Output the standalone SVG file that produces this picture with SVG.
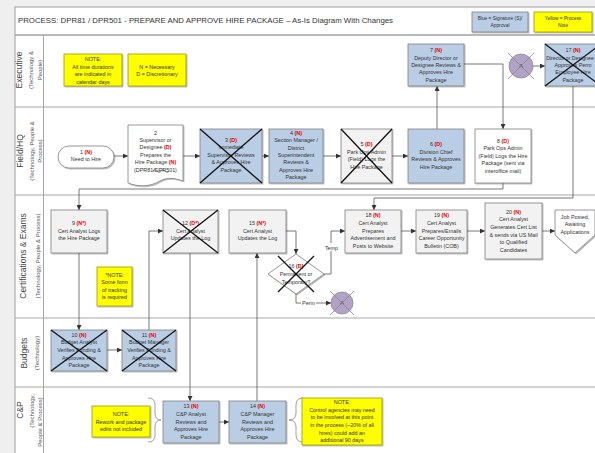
<svg xmlns="http://www.w3.org/2000/svg" width="595" height="453" viewBox="0 0 595 453">
<defs>
<filter id="sh" x="-10%" y="-10%" width="130%" height="130%"><feDropShadow dx="1" dy="1" stdDeviation="0.7" flood-color="#000" flood-opacity="0.3"/></filter>
<marker id="ah" viewBox="0 0 10 10" refX="10" refY="5" markerWidth="5" markerHeight="5" markerUnits="userSpaceOnUse" orient="auto"><path d="M0,0 L10,5 L0,10 z" fill="#333"/></marker>
</defs>
<style>
.n{stroke:#7f7f7f;stroke-width:0.8;filter:url(#sh)}
.blue{fill:#b9cde5}
.gray{fill:#f2f2f2}
.white{fill:#fff}
.yel{fill:#ffff00;stroke:#9a9a00;stroke-width:0.8;filter:url(#sh)}
.t{font-family:"Liberation Sans",Arial,sans-serif;font-size:5.4px;fill:#333;text-anchor:middle}
.r{fill:#e00000;font-weight:bold}
.x{stroke:#111;stroke-width:1.3}
.xg{stroke:#888;stroke-width:0.8}
.c{stroke:#555;stroke-width:0.8;fill:none;marker-end:url(#ah)}
.lane{stroke:#a6a6a6;stroke-width:1;fill:none}
.lm{font-family:"Liberation Sans",Arial,sans-serif;font-size:8.5px;fill:#444;text-anchor:middle}
.ls{font-family:"Liberation Sans",Arial,sans-serif;font-size:6px;fill:#555;text-anchor:middle}
.br{stroke:#888;stroke-width:0.8;fill:none}
</style>
<rect x="0" y="0" width="595" height="453" fill="#efefef"/>
<g id="frame">
<rect x="15" y="7" width="600" height="460" fill="#fff" stroke="#a0a0a0"/>
<text x="18" y="23" font-family="Liberation Sans,Arial,sans-serif" font-size="8" fill="#333" textLength="375" lengthAdjust="spacingAndGlyphs">PROCESS:  DPR81 / DPR501 - PREPARE AND APPROVE HIRE PACKAGE – As-Is Diagram With Changes</text>
<line x1="15" y1="35" x2="595" y2="35" stroke="#a0a0a0" stroke-width="1.5"/>
<line x1="43.5" y1="35" x2="43.5" y2="453" class="lane"/>
<line x1="15" y1="107" x2="595" y2="107" class="lane"/>
<line x1="15" y1="195" x2="595" y2="195" class="lane"/>
<line x1="15" y1="318" x2="595" y2="318" class="lane"/>
<line x1="15" y1="387" x2="595" y2="387" class="lane"/>
</g>
<g id="legend">
<rect x="472" y="12" width="56" height="20" class="n blue"/>
<text class="t" style="font-size:4.8px"><tspan x="500" y="20">Blue = Signature (S)/</tspan><tspan x="500" y="27">Approval</tspan></text>
<rect x="534" y="12" width="58" height="20" class="yel"/>
<text class="t" style="font-size:4.8px"><tspan x="563" y="20">Yellow = Process</tspan><tspan x="563" y="27">Note</tspan></text>
</g>
<g id="lane-labels">
<text class="lm" transform="translate(22,70) rotate(-90)">Executive</text>
<text class="ls" transform="translate(33,70) rotate(-90)">(Technology &amp;</text>
<text class="ls" transform="translate(41.5,70) rotate(-90)">People)</text>
<text class="lm" transform="translate(23,151) rotate(-90)">Field/HQ</text>
<text class="ls" transform="translate(33.5,151) rotate(-90)">(Technology, People &amp;</text>
<text class="ls" transform="translate(41.5,151) rotate(-90)">Process)</text>
<text class="lm" transform="translate(26,256) rotate(-90)">Certifications &amp; Exams</text>
<text class="ls" transform="translate(40,256) rotate(-90)">(Technology, People &amp; Process)</text>
<text class="lm" transform="translate(26.5,353) rotate(-90)">Budgets</text>
<text class="ls" transform="translate(39,353) rotate(-90)">(Technology)</text>
<text class="lm" transform="translate(23,410) rotate(-90)">C&amp;P</text>
<text class="ls" transform="translate(33.5,411) rotate(-90)">(Technology,</text>
<text class="ls" transform="translate(41.5,422) rotate(-90)">People &amp; Process)</text>
</g>
<g id="connectors">
<path class="c" d="M114,156 H128"/>
<path class="c" d="M183,156 H200"/>
<path class="c" d="M262,156 H269"/>
<path class="c" d="M323,156 H341"/>
<path class="c" d="M392,156 H408"/>
<path class="c" d="M437,129 V86"/>
<path class="c" d="M464,64 H503 V129"/>
<path class="c" d="M503,183 V189 H79 V210"/>
<path class="c" d="M79,253 V330"/>
<path class="c" d="M107,350 H122"/>
<path class="c" d="M149,330 V231 H163"/>
<path class="c" d="M190,253 V401"/>
<path class="c" d="M219,422 H229"/>
<path class="c" d="M257,401 V253"/>
<path class="c" d="M286,231 H296 V254"/>
<path class="c" d="M324,274 H331 V231 H345"/>
<path class="c" d="M296,294 V303 H331"/>
<path class="c" d="M533,66 H545"/>
<path class="c" d="M573,86 V198 H374 V210"/>
<path class="c" d="M401,231 H416"/>
<path class="c" d="M467,231 H485"/>
<path class="c" d="M542,231 H555"/>
<rect x="324" y="243" width="15" height="8" fill="#fff"/>
<text class="t" x="331.5" y="249.5">Temp</text>
<rect x="301" y="299" width="15" height="8" fill="#fff"/>
<text class="t" x="308.5" y="305">Perm</text>
</g>
<g id="note-durations">
<rect x="64" y="54" width="58" height="32" class="yel"/>
<text class="t"><tspan x="93" y="61">NOTE:</tspan><tspan x="93" y="68.7">All time durations</tspan><tspan x="93" y="76">are indicated in</tspan><tspan x="93" y="83.7">calendar days</tspan></text>
</g>
<g id="note-nd">
<rect x="128" y="54" width="58" height="32" class="yel"/>
<text class="t"><tspan x="157" y="68.7">N = Necessary</tspan><tspan x="157" y="76">D = Discretionary</tspan></text>
</g>
<g id="node7">
<rect x="408" y="44" width="56" height="42" class="n blue"/>
<text class="t"><tspan x="436" y="52">7 <tspan class="r">(N)</tspan></tspan><tspan x="436" y="59.7">Deputy Director or</tspan><tspan x="436" y="67">Designee Reviews &amp;</tspan><tspan x="436" y="74.3">Approves Hire</tspan><tspan x="436" y="82">Package</tspan></text>
</g>
<g id="circleA1">
<circle cx="521" cy="66" r="12" fill="#b3a2c7" stroke="#8c8c8c" stroke-width="0.8"/>
<text class="t" x="521" y="68" style="font-size:6px">A</text>
<line x1="508" y1="53" x2="534" y2="79" class="xg"/>
<line x1="534" y1="53" x2="508" y2="79" class="xg"/>
</g>
<g id="node17">
<rect x="545" y="44" width="56" height="42" class="n blue"/>
<text class="t"><tspan x="573" y="52">17 <tspan class="r">(N)</tspan></tspan><tspan x="570" y="59.7" style="font-size:5.2px">Director or Designee</tspan><tspan x="573" y="67">Approves Perm</tspan><tspan x="573" y="74.3">Employee Hire</tspan><tspan x="573" y="82">Package</tspan></text>
<line x1="545" y1="44" x2="601" y2="86" class="x"/>
<line x1="601" y1="44" x2="545" y2="86" class="x"/>
</g>
<g id="node1">
<rect x="58" y="146" width="56" height="22" rx="11" class="n white"/>
<text class="t"><tspan x="86" y="153.7">1 <tspan class="r">(N)</tspan></tspan><tspan x="86" y="161">Need to Hire</tspan></text>
</g>
<g id="node2">
<path d="M128,125 H183 V181 C175,178 167,177 160,181 C150,187 138,187 128,183 Z" class="n white"/>
<text class="t"><tspan x="155.5" y="134.7">2</tspan><tspan x="155.5" y="142">Supervisor or</tspan><tspan x="155.5" y="149.3">Designee <tspan class="r">(D)</tspan></tspan><tspan x="155.5" y="157">Prepares the</tspan><tspan x="155.5" y="164.3">Hire Package <tspan class="r">(N)</tspan></tspan><tspan x="155.5" y="172">(DPR81/DPR501)</tspan></text>
<path d="M153,171 q2,-3 4,0 t4,0 t4,0 t4,0" stroke="#333" stroke-width="0.6" fill="none"/>
</g>
<g id="node3">
<rect x="200" y="129" width="62" height="54" class="n blue"/>
<text class="t"><tspan x="231" y="142">3 <tspan class="r">(D)</tspan></tspan><tspan x="231" y="149.4">Immediate</tspan><tspan x="231" y="156.8">Supervisor Reviews</tspan><tspan x="231" y="164.2">&amp; Approves Hire</tspan><tspan x="231" y="171.6">Package</tspan></text>
<line x1="200" y1="129" x2="262" y2="183" class="x"/>
<line x1="262" y1="129" x2="200" y2="183" class="x"/>
</g>
<g id="node4">
<rect x="269" y="129" width="54" height="54" class="n blue"/>
<text class="t"><tspan x="296" y="134.7">4 <tspan class="r">(N)</tspan></tspan><tspan x="296" y="142.1">Section Manager /</tspan><tspan x="296" y="149.5">District</tspan><tspan x="296" y="156.9">Superintendent</tspan><tspan x="296" y="164.3">Reviews &amp;</tspan><tspan x="296" y="171.7">Approves Hire</tspan><tspan x="296" y="179.1">Package</tspan></text>
</g>
<g id="node5">
<rect x="341" y="129" width="51" height="54" class="n gray"/>
<text class="t"><tspan x="366.5" y="146">5 <tspan class="r">(D)</tspan></tspan><tspan x="366.5" y="153.7">Park Ops Admin</tspan><tspan x="366.5" y="161.3">(Field) Logs the</tspan><tspan x="366.5" y="168.7">Hire Package</tspan></text>
<line x1="341" y1="129" x2="392" y2="183" class="x"/>
<line x1="392" y1="129" x2="341" y2="183" class="x"/>
</g>
<g id="node6">
<rect x="408" y="129" width="56" height="54" class="n blue"/>
<text class="t"><tspan x="436" y="146">6 <tspan class="r">(D)</tspan></tspan><tspan x="436" y="153.7">Division Chief</tspan><tspan x="436" y="161.3">Reviews &amp; Approves</tspan><tspan x="436" y="168.7">Hire Package</tspan></text>
</g>
<g id="node8">
<rect x="475" y="129" width="56" height="54" class="n white"/>
<text class="t"><tspan x="503" y="142.7">8 <tspan class="r">(D)</tspan></tspan><tspan x="503" y="150.3">Park Ops Admin</tspan><tspan x="503" y="157.7">(Field) Logs the Hire</tspan><tspan x="503" y="165.3">Package (sent via</tspan><tspan x="503" y="173">interoffice mail)</tspan></text>
</g>
<g id="node9">
<rect x="51" y="210" width="56" height="43" class="n gray"/>
<text class="t"><tspan x="79" y="225.3">9 <tspan class="r">(N*)</tspan></tspan><tspan x="79" y="233">Cert Analyst Logs</tspan><tspan x="79" y="240.3">the Hire Package</tspan></text>
</g>
<g id="note-tracking">
<rect x="97" y="267" width="35" height="39" class="yel"/>
<text class="t"><tspan x="114.5" y="277">*NOTE:</tspan><tspan x="114.5" y="284.3">Some form</tspan><tspan x="114.5" y="292">of tracking</tspan><tspan x="114.5" y="299.3">is required</tspan></text>
</g>
<g id="node12">
<rect x="163" y="210" width="55" height="43" class="n gray"/>
<text class="t"><tspan x="190.5" y="225.3">12 <tspan class="r">(D*)</tspan></tspan><tspan x="190.5" y="233">Cert Analyst</tspan><tspan x="190.5" y="240.3">Updates the Log</tspan></text>
<line x1="163" y1="210" x2="218" y2="253" class="x"/>
<line x1="218" y1="210" x2="163" y2="253" class="x"/>
</g>
<g id="node15">
<rect x="229" y="210" width="57" height="43" class="n gray"/>
<text class="t"><tspan x="257.5" y="225.3">15 <tspan class="r">(N*)</tspan></tspan><tspan x="257.5" y="233">Cert Analyst</tspan><tspan x="257.5" y="240.3">Updates the Log</tspan></text>
</g>
<g id="node16">
<path d="M296,254 L324,274 L296,294 L268,274 Z" class="n white"/>
<text class="t"><tspan x="296" y="268">16 <tspan class="r">(D)</tspan></tspan><tspan x="296" y="276">Permanent or</tspan><tspan x="296" y="283.5">Temporary?</tspan></text>
<line x1="278" y1="256" x2="314" y2="292" class="x"/>
<line x1="314" y1="256" x2="278" y2="292" class="x"/>
</g>
<g id="circleA2">
<circle cx="342" cy="303" r="11" fill="#b3a2c7" stroke="#8c8c8c" stroke-width="0.8"/>
<text class="t" x="342" y="305" style="font-size:6px">A</text>
<line x1="330" y1="291" x2="354" y2="315" class="xg"/>
<line x1="354" y1="291" x2="330" y2="315" class="xg"/>
</g>
<g id="node18">
<rect x="345" y="210" width="56" height="43" class="n gray"/>
<text class="t"><tspan x="373" y="217">18 <tspan class="r">(N)</tspan></tspan><tspan x="373" y="225.3">Cert Analyst</tspan><tspan x="373" y="233">Prepares</tspan><tspan x="373" y="240.3">Advertisement and</tspan><tspan x="373" y="248">Posts to Website</tspan></text>
</g>
<g id="node19">
<rect x="416" y="210" width="51" height="43" class="n gray"/>
<text class="t"><tspan x="441.5" y="217">19 <tspan class="r">(N)</tspan></tspan><tspan x="441.5" y="225.3">Cert Analyst</tspan><tspan x="441.5" y="233">Prepares/Emails</tspan><tspan x="441.5" y="240.3">Career Opportunity</tspan><tspan x="441.5" y="248">Bulletin (COB)</tspan></text>
</g>
<g id="node20">
<rect x="485" y="203" width="57" height="56" class="n gray"/>
<text class="t"><tspan x="513.5" y="213.7">20 <tspan class="r">(N)</tspan></tspan><tspan x="513.5" y="221.3">Cert Analyst</tspan><tspan x="513.5" y="229">Generates Cert List</tspan><tspan x="513.5" y="237">&amp; sends via US Mail</tspan><tspan x="513.5" y="244.3">to Qualified</tspan><tspan x="513.5" y="252">Candidates</tspan></text>
</g>
<g id="offpage">
<path d="M555,210 H595 V235 L575,253 L555,235 Z" class="n white"/>
<text class="t"><tspan x="575" y="218.7">Job Posted,</tspan><tspan x="575" y="226.3">Awaiting</tspan><tspan x="575" y="233.7">Applications</tspan></text>
</g>
<g id="node10">
<rect x="51" y="330" width="56" height="41" class="n blue"/>
<text class="t"><tspan x="79" y="337">10 <tspan class="r">(N)</tspan></tspan><tspan x="79" y="344.3">Budget Analyst</tspan><tspan x="79" y="352">Verifies Funding &amp;</tspan><tspan x="79" y="359.7">Approves Hire</tspan><tspan x="79" y="367">Package</tspan></text>
<line x1="51" y1="330" x2="107" y2="371" class="x"/>
<line x1="107" y1="330" x2="51" y2="371" class="x"/>
</g>
<g id="node11">
<rect x="122" y="330" width="54" height="41" class="n blue"/>
<text class="t"><tspan x="149" y="337">11 <tspan class="r">(N)</tspan></tspan><tspan x="149" y="344.3">Budget Manager</tspan><tspan x="149" y="352">Verifies Funding &amp;</tspan><tspan x="149" y="359.7">Approves Hire</tspan><tspan x="149" y="367">Package</tspan></text>
<line x1="122" y1="330" x2="176" y2="371" class="x"/>
<line x1="176" y1="330" x2="122" y2="371" class="x"/>
</g>
<g id="note-rework">
<rect x="92" y="406" width="58" height="31" class="yel"/>
<text class="t"><tspan x="121" y="416">NOTE:</tspan><tspan x="121" y="423.7">Rework and package</tspan><tspan x="121" y="431.3">edits not included</tspan></text>
<path class="br" d="M148,398 Q155,398 155,405 V413 Q155,420 161,420 Q155,420 155,427 V435 Q155,442 148,442"/>
</g>
<g id="node13">
<rect x="163" y="401" width="56" height="42" class="n blue"/>
<text class="t"><tspan x="191" y="408">13 <tspan class="r">(N)</tspan></tspan><tspan x="191" y="416">C&amp;P Analyst</tspan><tspan x="191" y="423.7">Reviews and</tspan><tspan x="191" y="431.3">Approves Hire</tspan><tspan x="191" y="438.7">Package</tspan></text>
</g>
<g id="node14">
<rect x="229" y="401" width="57" height="42" class="n blue"/>
<text class="t"><tspan x="257.5" y="408">14 <tspan class="r">(N)</tspan></tspan><tspan x="257.5" y="416">C&amp;P Manager</tspan><tspan x="257.5" y="423.7">Reviews and</tspan><tspan x="257.5" y="431.3">Approves Hire</tspan><tspan x="257.5" y="438.7">Package</tspan></text>
</g>
<g id="note-control">
<path class="br" d="M303,398 Q296,398 296,405 V413 Q296,420 289,420 Q296,420 296,427 V435 Q296,442 303,442"/>
<rect x="302" y="398" width="80" height="47" class="yel"/>
<text class="t"><tspan x="342" y="404.3">NOTE:</tspan><tspan x="342" y="412">Control agencies may need</tspan><tspan x="342" y="419.3">to be involved at this point</tspan><tspan x="342" y="427">in the process (~20% of all</tspan><tspan x="342" y="434.7">hires) could add an</tspan><tspan x="342" y="442">additional 90 days</tspan></text>
</g>
</svg>
